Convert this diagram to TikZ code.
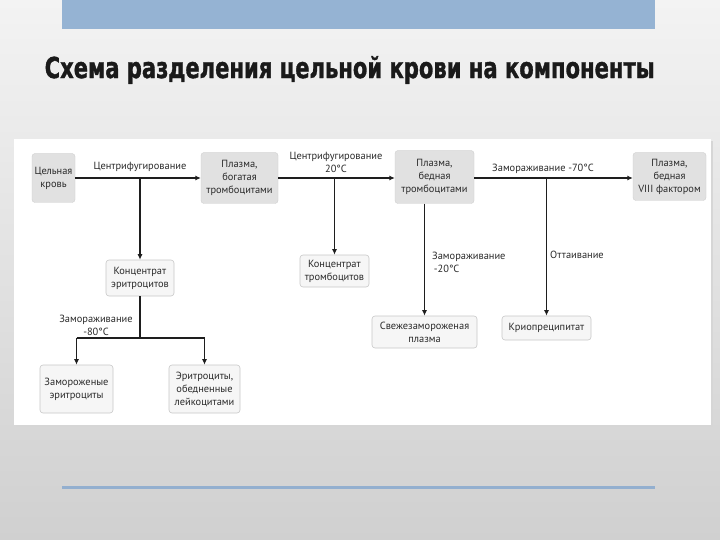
\documentclass[tikz,border=0pt]{standalone}
\usepackage{fontspec}
\setmainfont{PT Sans}
\newfontfamily\titlefont[FakeBold=1.5]{DejaVu Sans}
\usetikzlibrary{arrows.meta,calc}
\definecolor{bgtop}{HTML}{F3F3F3}
\definecolor{bgbot}{HTML}{D0D0D0}
\definecolor{barblue}{HTML}{95B3D3}
\definecolor{lineblue}{HTML}{93AFCF}
\definecolor{boxgray}{HTML}{E1E1E1}
\definecolor{boxlight}{HTML}{F6F6F6}
\definecolor{boxline}{HTML}{C8C8C8}
\definecolor{txt}{HTML}{2A2A2A}
\definecolor{conn}{HTML}{1E1E1E}
\begin{document}
\begin{tikzpicture}[x=1pt,y=-1pt,
  font=\fontsize{10.4}{13}\selectfont,
  topbox/.style={rectangle,rounded corners=3pt,fill=boxgray,draw=boxgray!90!black,line width=0.3pt,
    text=txt,align=center,inner sep=0pt},
  lowbox/.style={rectangle,rounded corners=3pt,fill=boxlight,draw=boxline,line width=0.6pt,
    text=txt,align=center,inner sep=0pt},
  lbl/.style={text=txt,inner sep=0pt},
  link/.style={draw=conn,line width=1.2pt},
  arr/.style={link,-{Latex[length=5.5pt,width=5pt]}}]
\useasboundingbox (0,0) rectangle (720,540);
% slide background
\shade[top color=bgtop,bottom color=bgbot] (0,0) rectangle (720,540);
\fill[barblue] (62,0) rectangle (655,29);
\fill[lineblue] (62,485.5) rectangle (655,488.5);
\node[anchor=west,inner sep=0pt] (title) at (44.5,70)
  {\resizebox*{610pt}{28pt}{\titlefont\bfseries\color[HTML]{1A1A1A}Схема разделения цельной крови на компоненты}};
% white panel
\fill[black!16] (16,141) rectangle (713,427);
\fill[white] (14,139) rectangle (711,425);
% nodes
\node[topbox,minimum width=43pt,minimum height=49pt] (whole) at (53.5,178) {Цельная\\кровь};
\node[topbox,minimum width=77pt,minimum height=51pt] (rich) at (239.5,178) {Плазма,\\богатая\\тромбоцитами};
\node[topbox,minimum width=79pt,minimum height=53pt] (poor) at (434.5,177) {Плазма,\\бедная\\тромбоцитами};
\node[topbox,minimum width=73pt,minimum height=48pt] (viii) at (669.5,176.5) {Плазма,\\бедная\\VIII фактором};
\node[lowbox,minimum width=68pt,minimum height=36pt] (eryc) at (140,278) {Концентрат\\эритроцитов};
\node[lowbox,minimum width=69pt,minimum height=32pt] (thrc) at (334.5,271) {Концентрат\\тромбоцитов};
\node[lowbox,minimum width=105pt,minimum height=32pt] (ffp) at (424.5,332) {Свежезамороженая\\плазма};
\node[lowbox,minimum width=89pt,minimum height=24pt] (cryo) at (546.5,328) {Криопреципитат};
\node[lowbox,minimum width=73pt,minimum height=48pt] (frozen) at (76.5,389) {Замороженые\\эритроциты};
\node[lowbox,minimum width=71pt,minimum height=48pt] (leuko) at (204.5,389) {Эритроциты,\\обедненные\\лейкоцитами};
% labels
\node[lbl] (l1) at (140,167) {Центрифугирование};
\node[lbl,align=center] (l2) at (336,162.5) {Центрифугирование\\20°C};
\node[lbl] (l3) at (543,169) {Замораживание -70°C};
\node[lbl,align=left,anchor=north west] (l4) at (432,251.5) {Замораживание\\\,-20°C};
\node[lbl,anchor=north west] (l5) at (550,250.5) {Оттаивание};
\node[lbl,align=center] (l6) at (96,325) {Замораживание\\-80°C};
% connectors
\draw[arr] (whole.east) -- (rich.west);
\draw[arr] (eryc.north |- whole.east) -- (eryc.north);
\draw[arr] (rich.east) -- (poor.west |- rich.east);
\draw[arr] (thrc.north |- rich.east) -- (thrc.north);
\draw[arr] (poor.east |- rich.east) -- (viii.west |- rich.east);
\draw[arr] (ffp.north |- poor.south) -- (ffp.north);
\draw[arr] (cryo.north |- rich.east) -- (cryo.north);
\coordinate (j) at (140,338);
\draw[link] (eryc.south) -- (j);
\draw[link] (frozen.north |- j) -- (leuko.north |- j);
\draw[arr] (frozen.north |- j) -- (frozen.north);
\draw[arr] (leuko.north |- j) -- (leuko.north);
\end{tikzpicture}
\end{document}
